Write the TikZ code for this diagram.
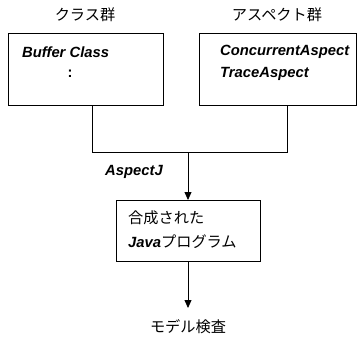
\documentclass[tikz,border=0pt]{standalone}
\usepackage{fontspec}
\setmainfont{Liberation Sans}
\newfontfamily\jp{Noto Sans CJK JP}
\usetikzlibrary{arrows.meta}
\begin{document}
\begin{tikzpicture}[x=1pt,y=-1pt,
  box/.style={draw,line width=0.8pt},
  lbl/.style={font=\fontsize{14.8}{17}\selectfont\bfseries\itshape,anchor=west,inner sep=0},
  jlbl/.style={font=\fontsize{15.2}{17}\selectfont\jp,inner sep=0},
  conn/.style={line width=0.8pt},
  arr/.style={line width=0.8pt,-{Triangle[length=8pt,width=7pt]}}]
\useasboundingbox (0,0) rectangle (364,337);
\draw[box] (8,33) rectangle (163,105);
\draw[box] (199,33) rectangle (356,105);
\draw[box] (116,200) rectangle (260,261);
\node[jlbl] (t1) at (85,15) {クラス群};
\node[jlbl] (t2) at (277,15) {アスペクト群};
\node[lbl] (bc) at (22,52) {Buffer Class};
\node[font=\fontsize{14.8}{17}\selectfont\bfseries,inner sep=0] (dots) at (70,74) {:};
\node[lbl] (ca) at (220,52) {ConcurrentAspect};
\node[lbl] (ta) at (220,74) {TraceAspect};
\node[lbl] (aj) at (105,172) {AspectJ};
\node[jlbl,anchor=west] (g1) at (128,218) {合成された};
\node[anchor=west,inner sep=0] (g2) at (128,242) {\fontsize{14.8}{17}\selectfont\bfseries\itshape Java\normalfont\fontsize{15.2}{17}\selectfont\jp プログラム};
\node[jlbl] (mc) at (188,327) {モデル検査};
\coordinate (l1) at (92,105);
\coordinate (r1) at (287,105);
\coordinate (l2) at (92,152);
\coordinate (r2) at (287,152);
\coordinate (m) at (188,152);
\coordinate (btop) at (188,200);
\coordinate (bbot) at (188,261);
\coordinate (end) at (188,308);
\draw[conn] (l1) -- (l2) -- (r2) -- (r1);
\draw[arr] (m) -- (btop);
\draw[arr] (bbot) -- (end);
\end{tikzpicture}
\end{document}
